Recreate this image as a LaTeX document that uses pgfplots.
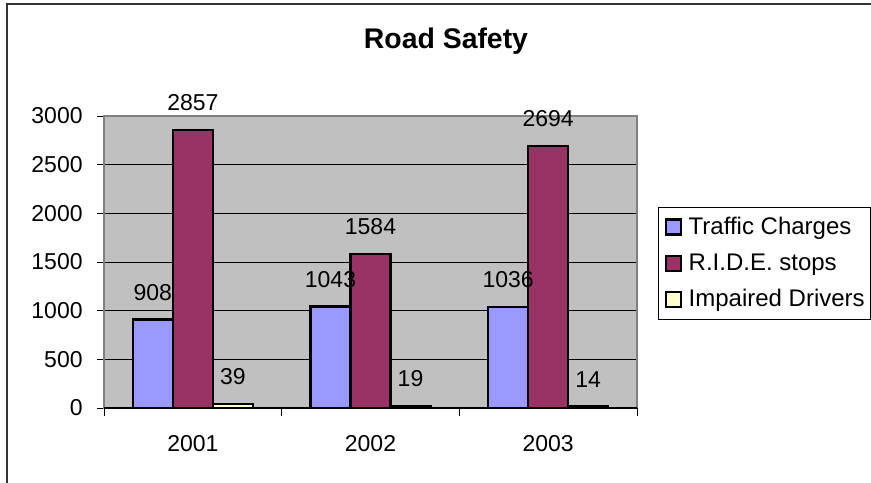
\documentclass[border=0pt]{standalone}
\usepackage{pgfplots}
\pgfplotsset{compat=1.18}
\usepackage{fontspec}
\setmainfont{Liberation Sans}

% Excel 2003 palette
\definecolor{trafficblue}{HTML}{9999FF}
\definecolor{ridered}{HTML}{993366}
\definecolor{impairedyellow}{HTML}{FFFFCC}
\definecolor{plotgray}{HTML}{C0C0C0}
\definecolor{bordergray}{HTML}{808080}

\begin{document}
\begin{tikzpicture}
% page = 871 x 482 px, 1 px = 0.5pt
\path[use as bounding box] (0pt,0pt) rectangle (435.5pt,-241pt);
\draw[line width=0.9pt, black!80] (3.5pt,-245pt) -- (3.5pt,-2pt) -- (440pt,-2pt);
\node[anchor=base, font=\fontsize{14.2}{16}\selectfont\bfseries] at (223pt,-24pt) {Road Safety};

\begin{axis}[
    at={(52pt,-204pt)}, anchor=south west,
    scale only axis,
    width=266.5pt, height=146pt,
    xmin=0.5, xmax=3.5,
    ymin=0, ymax=3000,
    ybar=0pt, bar width=20pt,
    clip=false,
    axis background/.style={fill=plotgray},
    axis line style={draw=bordergray, line width=1pt},
    xtick pos=bottom, ytick pos=left,
    xtick={1,2,3},
    xticklabels={2001,2002,2003},
    major x tick style={draw=none},
    extra x ticks={0.5,1.5,2.5,3.5},
    extra x tick labels={},
    extra x tick style={major tick length=4pt, tick align=outside, xtick pos=bottom,
        major x tick style={draw=black, line width=0.5pt}, grid=none},
    ytick={0,500,...,3000},
    tick align=outside,
    major tick length=3.5pt,
    y tick style={draw=black, line width=0.5pt},
    ymajorgrids=true,
    grid style={draw=black, line width=0.5pt},
    scaled y ticks=false,
    /pgf/number format/1000 sep={},
    /pgf/number format/assume math mode=true,
    tick label style={font=\fontsize{11.5}{13}\selectfont},
    yticklabel style={anchor=east, inner sep=0pt, xshift=-7pt},
    xticklabel style={anchor=base, inner sep=0pt, yshift=-18.25pt},
    nodes near coords,
    every node near coord/.append style={font=\fontsize{11.5}{13}\selectfont,
        black, anchor=south, inner sep=0pt, yshift=9pt},
    legend style={at={(1.0394,0.6884)}, anchor=north west,
        draw=black, line width=0.5pt, fill=white,
        font=\fontsize{12}{14}\selectfont,
        inner xsep=3pt, inner ysep=3.9pt, row sep=6.15pt,
        nodes={inner sep=0pt, text height=9.5pt, text depth=2.5pt},
        /tikz/every odd column/.append style={column sep=3.5pt}},
    legend cell align=left,
    legend image code/.code={\draw[#1, line width=1.1pt] (0pt,-3.65pt) rectangle (7.5pt,3.85pt);},
    extra description/.code={\draw[black, line width=0.6pt] (rel axis cs:0,0) -- (rel axis cs:1,0);},
]
\addplot[fill=trafficblue, draw=black, line width=1.2pt]
    coordinates {(1,908) (2,1043) (3,1036)};
\addlegendentry{Traffic Charges}
\addplot[fill=ridered, draw=black, line width=1.2pt]
    coordinates {(1,2857) (2,1584) (3,2694)};
\addlegendentry{R.I.D.E. stops}
\addplot[fill=impairedyellow, draw=black, line width=1.2pt]
    coordinates {(1,39) (2,19) (3,14)};
\addlegendentry{Impaired Drivers}
\end{axis}
\end{tikzpicture}
\end{document}
